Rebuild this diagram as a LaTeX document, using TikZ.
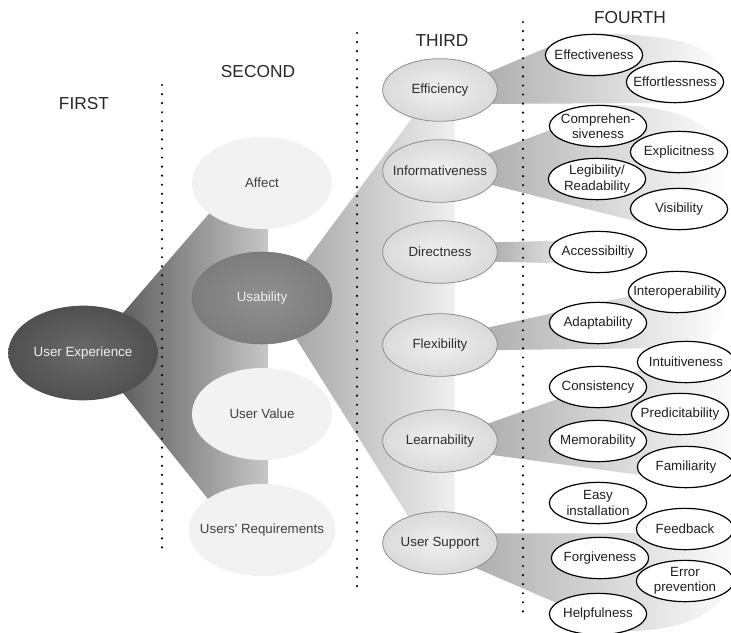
\documentclass[tikz,border=0pt]{standalone}
\usepackage{fontspec}
\setmainfont{Liberation Sans}
\usetikzlibrary{shapes.geometric,backgrounds}

\definecolor{uxin}{HTML}{6A6A6A}
\definecolor{uxout}{HTML}{363636}
\definecolor{usin}{HTML}{909090}
\definecolor{usout}{HTML}{6A6A6A}
\definecolor{thin}{HTML}{F0F0F0}
\definecolor{thout}{HTML}{C4C4C4}
\pgfdeclareradialshading{uxball}{\pgfpoint{0bp}{0bp}}{color(0bp)=(uxin); color(50bp)=(uxout)}
\pgfdeclareradialshading{usball}{\pgfpoint{0bp}{0bp}}{color(0bp)=(usin); color(50bp)=(usout)}
\pgfdeclareradialshading{thball}{\pgfpoint{0bp}{0bp}}{color(0bp)=(thin); color(50bp)=(thout)}

\tikzset{
  hdr/.style={font=\fontsize{13}{15}\selectfont, text=black!85},
  root/.style={ellipse, shade, shading=uxball, inner xsep=-10pt, inner ysep=0pt, minimum width=112pt, minimum height=71pt, text=white!94!black, font=\fontsize{10}{12}\selectfont},
  branch/.style={ellipse, fill=black!5, inner xsep=-22pt, inner ysep=0pt, minimum width=105pt, minimum height=69pt, text=black!75, font=\fontsize{10}{12}\selectfont},
  mainbranch/.style={branch, shade, shading=usball, draw=black!55, line width=0.4pt, text=white!94!black},
  twig/.style={ellipse, shade, shading=thball, draw=black!45, line width=0.6pt, inner xsep=-16pt, inner ysep=0pt, minimum width=86pt, minimum height=47pt, text=black!82, font=\fontsize{10}{12}\selectfont},
  leaf/.style={ellipse, draw=black, fill=white, line width=0.9pt, inner xsep=-16pt, inner ysep=-4pt, minimum width=73pt, minimum height=31pt, align=center, text=black!88, font=\fontsize{10}{11.5}\selectfont},
  fan/.style={left color=black!31, right color=white},
  sep/.style={line width=1.8pt, line cap=round, dash pattern=on 0pt off 6.8pt}
}

\begin{document}
\begin{tikzpicture}[x=0.75pt,y=-0.75pt]
    \useasboundingbox (0,0) rectangle (731,632);

    % column titles
    \node[hdr] (h1) at (84,104) {FIRST};
    \node[hdr] (h2) at (258,72) {SECOND};
    \node[hdr] (h3) at (442,41) {THIRD};
    \node[hdr] (h4) at (630,18) {FOURTH};

    \draw[sep] (162,85) -- (162,552);
    \draw[sep] (357,33) -- (357,592);
    \draw[sep] (523,22) -- (523,612);

    % first and second level
    \node[root] (ux) at (83,353) {User Experience};
    \node[branch] (affect) at (262,183) {Affect};
    \node[mainbranch] (usab) at (262,298) {Usability};
    \node[branch] (uvalue) at (262,414) {User Value};
    \node[branch, minimum width=110pt] (ureq) at (262,530) {Users\textquotesingle{} Requirements};

    % third level
    \node[twig] (effic) at (440,90) {Efficiency};
    \node[twig] (inform) at (440,171) {Informativeness};
    \node[twig] (direct) at (440,252) {Directness};
    \node[twig] (flexi) at (440,345) {Flexibility};
    \node[twig] (learn) at (440,441) {Learnability};
    \node[twig] (usupp) at (440,543) {User Support};

    % fourth level
    \node[leaf] (effect) at (594,55) {Effectiveness};
    \node[leaf] (effort) at (675,82) {Effortlessness};
    \node[leaf] (compr) at (598,126) {Comprehen-\\siveness};
    \node[leaf] (explic) at (679,152) {Explicitness};
    \node[leaf] (legib) at (597,179) {Legibility/\\Readability};
    \node[leaf] (visib) at (679,209) {Visibility};
    \node[leaf] (access) at (598,252) {Accessibiltiy};
    \node[leaf] (interop) at (677,292) {Interoperability};
    \node[leaf] (adapt) at (598,323) {Adaptability};
    \node[leaf] (intuit) at (686,362) {Intuitiveness};
    \node[leaf] (consis) at (598,387) {Consistency};
    \node[leaf] (predic) at (680,414) {Predicitability};
    \node[leaf] (memor) at (598,441) {Memorability};
    \node[leaf] (famil) at (686,467) {Familiarity};
    \node[leaf] (easy) at (598,503) {Easy\\installation};
    \node[leaf] (feedb) at (685,529) {Feedback};
    \node[leaf] (forgiv) at (600,558) {Forgiveness};
    \node[leaf] (errprev) at (685,581) {Error\\prevention};
    \node[leaf] (helpf) at (598,614) {Helpfulness};

    % fans behind the nodes
    \begin{scope}[on background layer]
    \shade[left color=black!62, right color=black!22] (ux.45) -- (affect.210) -- ([xshift=4.5pt]affect.center)
        -- ([xshift=4.5pt]ureq.center) -- (ureq.150) -- (ux.-45) -- cycle;
    \shade[left color=black!34, right color=black!6] (usab.40) -- (effic.225) -- ([xshift=11pt]effic.center)
        -- ([xshift=11pt]usupp.center) -- (usupp.140) -- (usab.-50) -- cycle;
    \shade[fan] (effic.20) -- (effect.170) -- (effect.north) .. controls (700,34) and (726,55) .. (effort.east)
        -- (effort.250) -- (effic.-15) -- cycle;
    \shade[fan] (inform.20) -- (compr.185) -- (compr.north) .. controls (700,104) and (728,135) .. (728,175)
        .. controls (728,205) and (720,228) .. (visib.south) -- (visib.200) -- (inform.-15) -- cycle;
    \shade[fan] (direct.10) -- (access.165) -- (access.center) -- (access.195) -- (direct.-10) -- cycle;
    \shade[fan] (flexi.20) -- (interop.185) -- (interop.north) -- (interop.east)
        .. controls (728,325) and (712,347) .. (680,348) -- (flexi.-5) -- cycle;
    \shade[fan] (learn.20) -- (intuit.190) -- (intuit.north) -- (intuit.east)
        .. controls (745,400) and (742,450) .. (famil.east) -- (famil.190) -- (learn.-15) -- cycle;
    \shade[fan] (usupp.10) -- (feedb.185) -- (feedb.east) .. controls (745,565) and (740,630) .. (helpf.-30)
        -- (helpf.165) -- (usupp.-35) -- cycle;
    \end{scope}
\end{tikzpicture}
\end{document}
